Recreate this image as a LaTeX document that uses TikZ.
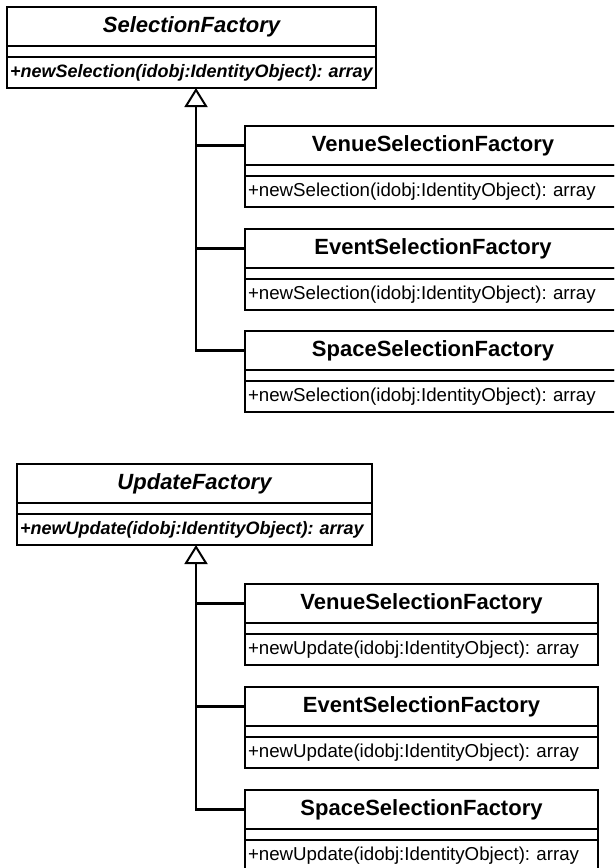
\documentclass[tikz,border=0pt]{standalone}
\usepackage{fontspec}
\setmainfont{Liberation Sans}
\usetikzlibrary{arrows.meta,positioning}
\frenchspacing

\tikzset{
  box/.style={draw, line width=1.7pt, outer sep=0pt, inner sep=0pt},
  clsname/.style={box, minimum height=39pt, font=\fontsize{22}{25}\selectfont\bfseries},
  clsgap/.style={box, minimum height=11pt},
  clsop/.style={box, minimum height=31pt, inner xsep=3pt, align=left, font=\fontsize{18.7}{21}\selectfont},
  absop/.style={clsop, font=\fontsize{18}{21}\selectfont\bfseries\itshape},
  trunk/.style={line width=2.2pt},
  inherit/.style={trunk, -{Triangle[open, length=19pt, width=23pt, line width=2pt]}}
}

\begin{document}
\begin{tikzpicture}[x=1pt, y=-1pt]
  \useasboundingbox (0,0) rectangle (614,868);
  \clip (0,0) rectangle (614,868);

  % selection factories
  \node[clsname, anchor=north west, minimum width=369pt] (sfname) at (7,7) {\itshape SelectionFactory};
  \node[clsgap, minimum width=369pt, below=0pt of sfname] (sfgap) {};
  \node[absop, text width=363pt, below=0pt of sfgap] (sfop) {+newSelection(idobj:IdentityObject): array};

  \node[clsname, anchor=north west, minimum width=376pt] (vsname) at (245,126) {VenueSelectionFactory};
  \node[clsgap, minimum width=376pt, below=0pt of vsname] (vsgap) {};
  \node[clsop, text width=370pt, below=0pt of vsgap] (vsop) {+newSelection(idobj:IdentityObject): array};

  \node[clsname, anchor=north west, minimum width=376pt] (esname) at (245,229) {EventSelectionFactory};
  \node[clsgap, minimum width=376pt, below=0pt of esname] (esgap) {};
  \node[clsop, text width=370pt, below=0pt of esgap] (esop) {+newSelection(idobj:IdentityObject): array};

  \node[clsname, anchor=north west, minimum width=376pt] (ssname) at (245,331) {SpaceSelectionFactory};
  \node[clsgap, minimum width=376pt, below=0pt of ssname] (ssgap) {};
  \node[clsop, text width=370pt, below=0pt of ssgap] (ssop) {+newSelection(idobj:IdentityObject): array};

  \coordinate (sftip) at (196,88);
  \draw[inherit] (ssname.west) -| (sftip);
  \draw[trunk] (vsname.west) -- (vsname.west -| sftip);
  \draw[trunk] (esname.west) -- (esname.west -| sftip);

  % update factories
  \node[clsname, anchor=north west, minimum width=355pt] (ufname) at (17,464) {\itshape UpdateFactory};
  \node[clsgap, minimum width=355pt, below=0pt of ufname] (ufgap) {};
  \node[absop, text width=349pt, below=0pt of ufgap] (ufop) {+newUpdate(idobj:IdentityObject): array};

  \node[clsname, anchor=north west, minimum width=353pt] (uvname) at (245,584) {VenueSelectionFactory};
  \node[clsgap, minimum width=353pt, below=0pt of uvname] (uvgap) {};
  \node[clsop, text width=347pt, below=0pt of uvgap] (uvop) {+newUpdate(idobj:IdentityObject): array};

  \node[clsname, anchor=north west, minimum width=353pt] (uename) at (245,687) {EventSelectionFactory};
  \node[clsgap, minimum width=353pt, below=0pt of uename] (uegap) {};
  \node[clsop, text width=347pt, below=0pt of uegap] (ueop) {+newUpdate(idobj:IdentityObject): array};

  \node[clsname, anchor=north west, minimum width=353pt] (usname) at (245,790) {SpaceSelectionFactory};
  \node[clsgap, minimum width=353pt, below=0pt of usname] (usgap) {};
  \node[clsop, text width=347pt, below=0pt of usgap] (usop) {+newUpdate(idobj:IdentityObject): array};

  \coordinate (uftip) at (196,545);
  \draw[inherit] (usname.west) -| (uftip);
  \draw[trunk] (uvname.west) -- (uvname.west -| uftip);
  \draw[trunk] (uename.west) -- (uename.west -| uftip);
\end{tikzpicture}
\end{document}
